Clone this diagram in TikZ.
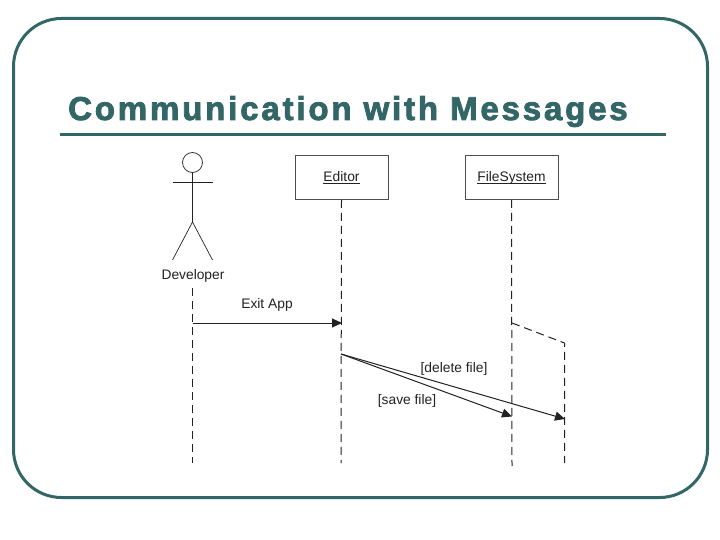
\documentclass[tikz,border=0pt]{standalone}
\usepackage{fontspec}
\setmainfont{Liberation Sans}
\newfontfamily\titlefont[LetterSpace=8.6,BoldFeatures={FakeBold=2.5}]{Liberation Sans}
\usetikzlibrary{arrows.meta}
\definecolor{teal1}{HTML}{336666}
\definecolor{ink}{HTML}{222222}
\newcommand{\objlabel}[1]{\rule{0pt}{10pt}\underline{\smash{#1}}}
\tikzset{
  x=1pt,y=-1pt,
  frameline/.style={draw=teal1,line width=3pt},
  obj/.style={draw=ink!80,line width=0.9pt,minimum width=93pt,minimum height=44pt,inner sep=0pt,font=\fontsize{13.8pt}{15pt}\selectfont,text=ink},
  life/.style={draw=ink,line width=1pt,dash pattern=on 8pt off 5pt},
  msg/.style={draw=ink,line width=1pt,-{Triangle[length=10pt,width=9pt]}},
  lbl/.style={font=\fontsize{13.8pt}{15pt}\selectfont,text=ink,inner sep=0pt},
  stick/.style={draw=ink,line width=0.7pt},
}
\begin{document}
\begin{tikzpicture}
\useasboundingbox (0,0) rectangle (720,540);
\fill[white] (0,0) rectangle (720,540);
\draw[frameline,rounded corners=48pt] (13.5,18.5) rectangle (707.5,497.5);
\node[anchor=base west,inner sep=0pt,text=teal1,font=\titlefont\bfseries\fontsize{33pt}{36pt}\selectfont] (title) at (68,120) {Communication with Messages};
\coordinate (ruleL) at (60,134.5);
\coordinate (ruleR) at (666,134.5);
\draw[draw=teal1,line width=3.5pt] (ruleL) -- (ruleR);
% actor
\node[circle,stick,minimum size=20pt,inner sep=0pt] (head) at (192.5,162.5) {};
\coordinate (armL) at (172.5,182);
\coordinate (armR) at (212.5,182);
\coordinate (hip) at (192.5,222);
\coordinate (legL) at (172.5,260);
\coordinate (legR) at (212.5,260);
\draw[stick] (head.south) -- (hip);
\draw[stick] (armL) -- (armR);
\draw[stick] (legL) -- (hip) -- (legR);
\node[lbl] (dev) at (193,275.5) {Developer};
% objects
\node[obj] (editor) at (341.5,177.5) {\objlabel{Editor}};
\node[obj] (fs) at (511.5,177.5) {\objlabel{FileSystem}};
% lifelines
\coordinate (devStart) at (192.5,288);
\coordinate (devEnd) at (192.5,463);
\coordinate (edEnd) at (341,463);
\coordinate (fsEnd) at (512,466);
\coordinate (branch) at (512,323);
\coordinate (corner) at (564.5,343);
\coordinate (brEnd) at (564.5,463);
\draw[life] (devStart) -- (devEnd);
\draw[life] (editor.south) -- (edEnd);
\draw[life] (fs.south) -- (fsEnd);
\draw[life] (branch) -- (corner) -- (brEnd);
% messages
\coordinate (m1s) at (192.5,323);
\coordinate (m1e) at (342,323);
\coordinate (m2s) at (341,354);
\coordinate (m2e) at (512,416.5);
\coordinate (m3e) at (565,419);
\draw[msg] (m1s) -- (m1e);
\draw[msg] (m2s) -- (m2e);
\draw[msg] (m2s) -- (m3e);
\node[lbl] (exit) at (267,304.5) {Exit App};
\node[lbl] (del) at (454,368.5) {[delete file]};
\node[lbl] (save) at (407,400.5) {[save file]};
\end{tikzpicture}
\end{document}
